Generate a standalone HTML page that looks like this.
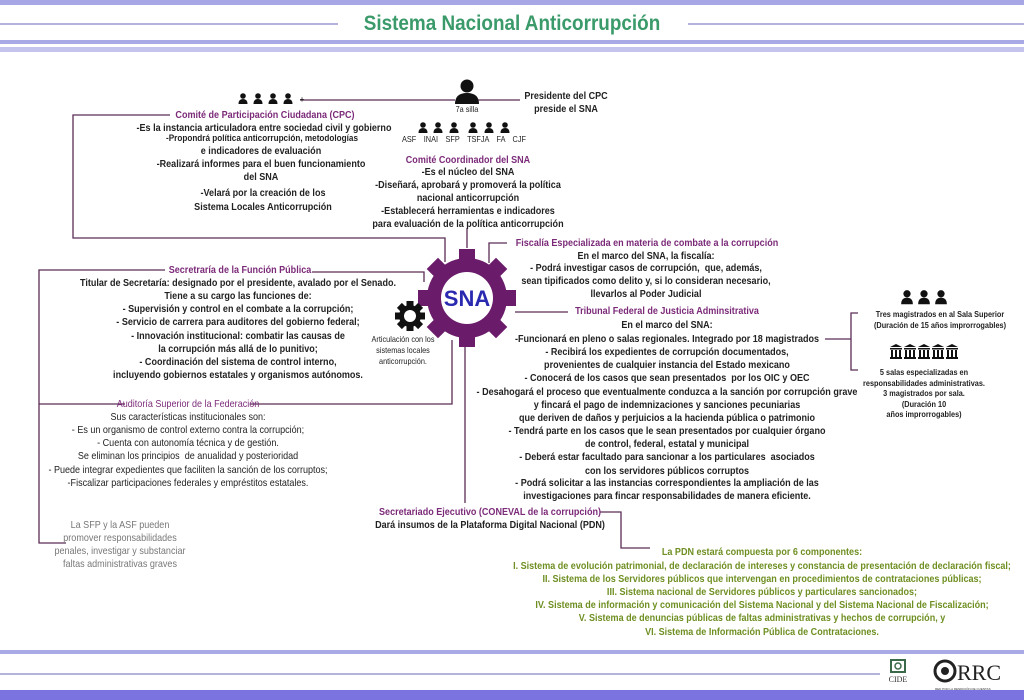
<!DOCTYPE html>
<html><head><meta charset="utf-8"><style>
body{margin:0;width:1024px;height:700px;position:relative;background:#fff;overflow:hidden;font-family:"Liberation Sans",sans-serif;}
.t{position:absolute;white-space:nowrap;font-weight:bold;font-size:10.5px;line-height:12px;color:#222;transform:translateX(-50%) scaleX(.86);transform-origin:center;}
.p{color:#7b2a78;}
.g{color:#6f8f22;}
.gr{color:#777;font-weight:normal;}
.s{font-size:8.5px;font-weight:normal;}
svg{position:absolute;left:0;top:0;}
</style></head><body>
<svg width="1024" height="700">
<defs>
<rect id="tooth" x="-8" y="-49" width="16" height="14"/>
<rect id="st" x="-3.5" y="-15" width="7" height="6"/>
<g id="pp"><circle cx="0" cy="-4" r="2.8"/><path d="M-4.5 4Q-4.5 -1 0 -1Q4.5 -1 4.5 4Z"/></g>
<g id="col"><path d="M-6 -6L0 -9L6 -6Z"/><rect x="-6" y="-5" width="12" height="1.5"/><rect x="-5" y="-3" width="2" height="7"/><rect x="-1" y="-3" width="2" height="7"/><rect x="3" y="-3" width="2" height="7"/><rect x="-6" y="4" width="12" height="2"/></g>
</defs>
<rect x="0" y="0" width="1024" height="5" fill="#a7a7e6"/>
<rect x="0" y="23" width="338" height="2" fill="#b3b3dc"/>
<rect x="688" y="23" width="336" height="2" fill="#b3b3dc"/>
<rect x="0" y="40" width="1024" height="4" fill="#a9a9e6"/>
<rect x="0" y="47" width="1024" height="5" fill="#c4c4ee"/>
<rect x="0" y="650" width="1024" height="4" fill="#a9a9e6"/>
<rect x="0" y="673" width="880" height="2" fill="#b3b3dc"/>
<rect x="0" y="690" width="1024" height="10" fill="#7b74e0"/>
<g stroke="#5b2c55" stroke-width="1.3" fill="none">
<path d="M300 100H455M478 100H520"/>
<path d="M170 115H73V238H445V262"/>
<path d="M467 228V248"/>
<path d="M507 243H489V263"/>
<path d="M165 270H39V543H66"/>
<path d="M312 272H424V282"/>
<path d="M39 404H125M250 404H452V340"/>
<path d="M515 312H568"/>
<path d="M465 345V503"/>
<path d="M600 512H621V548H650"/>
<path d="M825 339H851M858 313H851V370H858"/>
</g>
<g transform="translate(467,298)" fill="#6a1b6a">
<circle r="40"/>
<use href="#tooth"/>
<use href="#tooth" transform="rotate(45)"/><use href="#tooth" transform="rotate(90)"/><use href="#tooth" transform="rotate(135)"/>
<use href="#tooth" transform="rotate(180)"/><use href="#tooth" transform="rotate(225)"/><use href="#tooth" transform="rotate(270)"/><use href="#tooth" transform="rotate(315)"/>
<circle r="26" fill="#fff"/>
</g>
<text x="467" y="306" text-anchor="middle" font-family="Liberation Sans" font-weight="bold" font-size="22" fill="#2a2ab0">SNA</text>
<g transform="translate(410,316)" fill="#111">
<circle r="11"/>
<use href="#st"/>
<use href="#st" transform="rotate(45)"/><use href="#st" transform="rotate(90)"/><use href="#st" transform="rotate(135)"/>
<use href="#st" transform="rotate(180)"/><use href="#st" transform="rotate(225)"/><use href="#st" transform="rotate(270)"/><use href="#st" transform="rotate(315)"/>
<circle r="6" fill="#fff"/>
</g>
<g fill="#111">
<circle cx="467" cy="86" r="6.5"/><path d="M455 104Q455 93 467 93Q479 93 479 104Z"/>
<use href="#pp" x="243" y="100"/><use href="#pp" x="258" y="100"/><use href="#pp" x="273" y="100"/><use href="#pp" x="288" y="100"/>
<use href="#pp" x="423" y="129"/><use href="#pp" x="438" y="129"/><use href="#pp" x="454" y="129"/><use href="#pp" x="473" y="129"/><use href="#pp" x="489" y="129"/><use href="#pp" x="505" y="129"/>
<use href="#pp" transform="translate(907,299) scale(1.3)"/><use href="#pp" transform="translate(924,299) scale(1.3)"/><use href="#pp" transform="translate(941,299) scale(1.3)"/>
<use href="#col" x="896" y="353"/><use href="#col" x="910" y="353"/><use href="#col" x="924" y="353"/><use href="#col" x="938" y="353"/><use href="#col" x="952" y="353"/>
</g>
<rect x="891" y="660" width="14" height="12" fill="none" stroke="#3a6a4a" stroke-width="2"/>
<circle cx="898" cy="666" r="3" fill="none" stroke="#3a6a4a" stroke-width="1.5"/>
<text x="898" y="682" text-anchor="middle" font-family="Liberation Serif" font-size="8" fill="#333">CIDE</text>
<circle cx="945" cy="671" r="10" fill="none" stroke="#222" stroke-width="3"/>
<circle cx="945" cy="671" r="4" fill="#222"/>
<text x="957" y="680" font-family="Liberation Serif" font-size="22" fill="#222">RRC</text>
<text x="935" y="690" font-family="Liberation Sans" font-size="3" fill="#333">RED POR LA RENDICIÓN DE CUENTAS</text>
</svg>

<div class="t" style="left:512px;top:11px;font-size:21px;line-height:26px;color:#3a9a6a;transform:translateX(-50%) scaleX(.9)">Sistema Nacional Anticorrupción</div>

<div class="t" style="left:302px;top:94px;font-size:8px">+</div>
<div class="t s" style="left:467px;top:103px">7a silla</div>
<div class="t" style="left:566px;top:90px">Presidente del CPC</div>
<div class="t" style="left:566px;top:103px">preside el SNA</div>
<div class="t s" style="left:464px;top:133px;word-spacing:2px">ASF &nbsp;INAI &nbsp;SFP &nbsp;TSFJA &nbsp;FA &nbsp;CJF</div>

<div class="t p" style="left:265px;top:109px">Comité de Participación Ciudadana (CPC)</div>
<div class="t" style="left:264px;top:122px">-Es la instancia articuladora entre sociedad civil y gobierno</div>
<div class="t" style="left:262px;top:133px;font-size:9.5px">-Propondrá política anticorrupción, metodologías</div>
<div class="t" style="left:261px;top:145px">e indicadores de evaluación</div>
<div class="t" style="left:261px;top:158px">-Realizará informes para el buen funcionamiento</div>
<div class="t" style="left:261px;top:171px">del SNA</div>
<div class="t" style="left:263px;top:187px">-Velará por la creación de los</div>
<div class="t" style="left:263px;top:201px">Sistema Locales Anticorrupción</div>

<div class="t p" style="left:468px;top:154px">Comité Coordinador del SNA</div>
<div class="t" style="left:468px;top:166px">-Es el núcleo del SNA</div>
<div class="t" style="left:468px;top:179px">-Diseñará, aprobará y promoverá la política</div>
<div class="t" style="left:468px;top:192px">nacional anticorrupción</div>
<div class="t" style="left:468px;top:205px">-Establecerá herramientas e indicadores</div>
<div class="t" style="left:468px;top:218px">para evaluación de la política anticorrupción</div>

<div class="t p" style="left:240px;top:264px">Secretraría de la Función Pública</div>
<div class="t" style="left:238px;top:277px">Titular de Secretaría: designado por el presidente, avalado por el Senado.</div>
<div class="t" style="left:238px;top:290px">Tiene a su cargo las funciones de:</div>
<div class="t" style="left:238px;top:303px">- Supervisión y control en el combate a la corrupción;</div>
<div class="t" style="left:238px;top:316px">- Servicio de carrera para auditores del gobierno federal;</div>
<div class="t" style="left:238px;top:330px">- Innovación institucional: combatir las causas de</div>
<div class="t" style="left:238px;top:343px">la corrupción más allá de lo punitivo;</div>
<div class="t" style="left:238px;top:356px">- Coordinación del sistema de control interno,</div>
<div class="t" style="left:238px;top:369px">incluyendo gobiernos estatales y organismos autónomos.</div>

<div class="t s" style="left:403px;top:333px">Articulación con los</div>
<div class="t s" style="left:403px;top:344px">sistemas locales</div>
<div class="t s" style="left:403px;top:355px">anticorrupción.</div>

<div class="t p" style="left:188px;top:398px;font-weight:normal">Auditoría Superior de la Federación</div>
<div class="t" style="left:188px;top:411px;font-weight:normal">Sus características institucionales son:</div>
<div class="t" style="left:188px;top:424px;font-weight:normal">- Es un organismo de control externo contra la corrupción;</div>
<div class="t" style="left:188px;top:437px;font-weight:normal">- Cuenta con autonomía técnica y de gestión.</div>
<div class="t" style="left:188px;top:450px;font-weight:normal">Se eliminan los principios &nbsp;de anualidad y posterioridad</div>
<div class="t" style="left:188px;top:464px;font-weight:normal">- Puede integrar expedientes que faciliten la sanción de los corruptos;</div>
<div class="t" style="left:188px;top:477px;font-weight:normal">-Fiscalizar participaciones federales y empréstitos estatales.</div>

<div class="t gr" style="left:120px;top:519px">La SFP y la ASF pueden</div>
<div class="t gr" style="left:120px;top:532px">promover responsabilidades</div>
<div class="t gr" style="left:120px;top:545px">penales, investigar y substanciar</div>
<div class="t gr" style="left:120px;top:558px">faltas administrativas graves</div>

<div class="t p" style="left:647px;top:237px">Fiscalía Especializada en materia de combate a la corrupción</div>
<div class="t" style="left:646px;top:250px">En el marco del SNA, la fiscalía:</div>
<div class="t" style="left:646px;top:262px">- Podrá investigar casos de corrupción, &nbsp;que, además,</div>
<div class="t" style="left:646px;top:275px">sean tipificados como delito y, si lo consideran necesario,</div>
<div class="t" style="left:646px;top:288px">llevarlos al Poder Judicial</div>

<div class="t p" style="left:667px;top:305px">Tribunal Federal de Justicia Adminsitrativa</div>
<div class="t" style="left:667px;top:319px">En el marco del SNA:</div>
<div class="t" style="left:667px;top:333px">-Funcionará en pleno o salas regionales. Integrado por 18 magistrados</div>
<div class="t" style="left:667px;top:346px">- Recibirá los expedientes de corrupción documentados,</div>
<div class="t" style="left:667px;top:359px">provenientes de cualquier instancia del Estado mexicano</div>
<div class="t" style="left:667px;top:372px">- Conocerá de los casos que sean presentados &nbsp;por los OIC y OEC</div>
<div class="t" style="left:667px;top:386px">- Desahogará el proceso que eventualmente conduzca a la sanción por corrupción grave</div>
<div class="t" style="left:667px;top:399px">y fincará el pago de indemnizaciones y sanciones pecuniarias</div>
<div class="t" style="left:667px;top:412px">que deriven de daños y perjuicios a la hacienda pública o patrimonio</div>
<div class="t" style="left:667px;top:425px">- Tendrá parte en los casos que le sean presentados por cualquier órgano</div>
<div class="t" style="left:667px;top:438px">de control, federal, estatal y municipal</div>
<div class="t" style="left:667px;top:451px">- Deberá estar facultado para sancionar a los particulares &nbsp;asociados</div>
<div class="t" style="left:667px;top:465px">con los servidores públicos corruptos</div>
<div class="t" style="left:667px;top:477px">- Podrá solicitar a las instancias correspondientes la ampliación de las</div>
<div class="t" style="left:667px;top:490px">investigaciones para fincar responsabilidades de manera eficiente.</div>

<div class="t" style="left:940px;top:308px;font-size:8.5px">Tres magistrados en al Sala Superior</div>
<div class="t" style="left:940px;top:319px;font-size:8.5px">(Duración de 15 años improrrogables)</div>
<div class="t" style="left:924px;top:366px;font-size:8.5px">5 salas especializadas en</div>
<div class="t" style="left:924px;top:377px;font-size:8.5px">responsabilidades administrativas.</div>
<div class="t" style="left:924px;top:387px;font-size:8.5px">3 magistrados por sala.</div>
<div class="t" style="left:924px;top:398px;font-size:8.5px">(Duración 10</div>
<div class="t" style="left:924px;top:408px;font-size:8.5px">años improrrogables)</div>

<div class="t p" style="left:490px;top:506px">Secretariado Ejecutivo (CONEVAL de la corrupción)</div>
<div class="t" style="left:490px;top:519px">Dará insumos de la Plataforma Digital Nacional (PDN)</div>

<div class="t g" style="left:762px;top:546px">La PDN estará compuesta por 6 componentes:</div>
<div class="t g" style="left:762px;top:560px">I. Sistema de evolución patrimonial, de declaración de intereses y constancia de presentación de declaración fiscal;</div>
<div class="t g" style="left:762px;top:573px">II. Sistema de los Servidores públicos que intervengan en procedimientos de contrataciones públicas;</div>
<div class="t g" style="left:762px;top:586px">III. Sistema nacional de Servidores públicos y particulares sancionados;</div>
<div class="t g" style="left:762px;top:599px">IV. Sistema de información y comunicación del Sistema Nacional y del Sistema Nacional de Fiscalización;</div>
<div class="t g" style="left:762px;top:612px">V. Sistema de denuncias públicas de faltas administrativas y hechos de corrupción, y</div>
<div class="t g" style="left:762px;top:626px">VI. Sistema de Información Pública de Contrataciones.</div>
</body></html>
